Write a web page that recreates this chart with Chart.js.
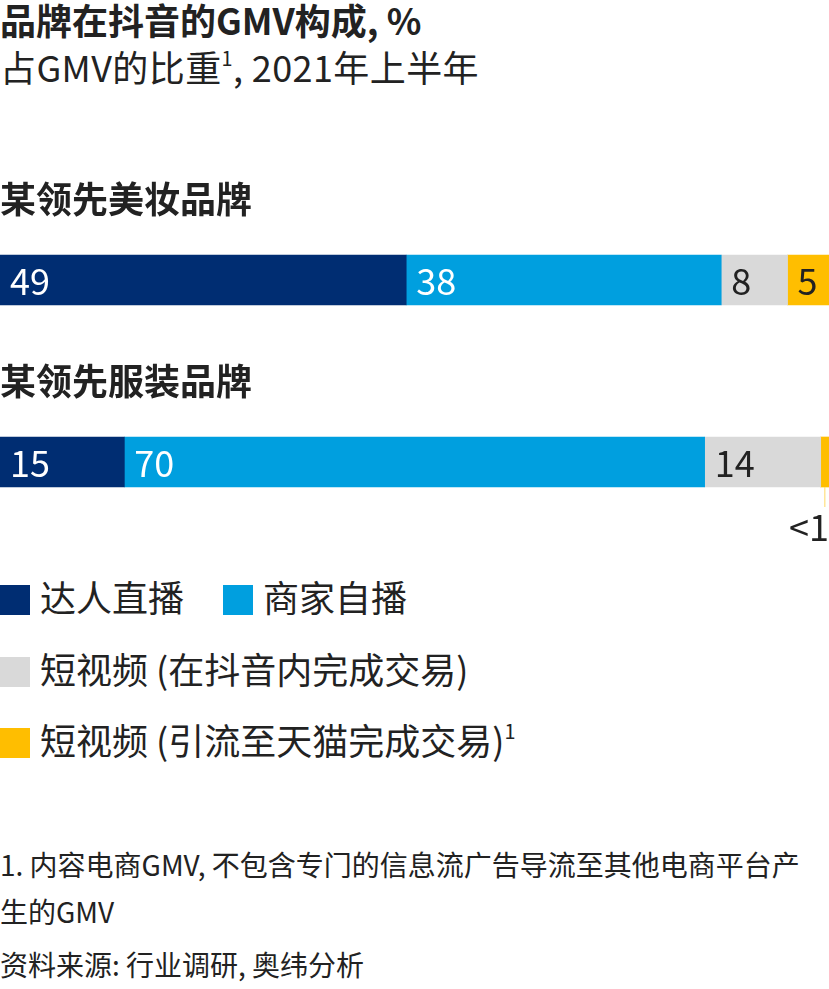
<!DOCTYPE html>
<html>
<head>
<meta charset="utf-8">
<script src="https://cdn.jsdelivr.net/npm/chart.js@4.4.1/dist/chart.umd.min.js"></script>
<style>
  body{ margin:0; width:829px; height:989px; position:relative; overflow:hidden;
        background:#fff; color:#222; font-family:"Noto Sans CJK SC", "Noto Sans", sans-serif; }
  .abs{ position:absolute; left:0; white-space:nowrap; line-height:1; }
  #title{ top:1px; font-size:36px; font-weight:700; }
  #subtitle{ top:48px; font-size:36px; letter-spacing:0.4px; }
  sup{ font-size:0.55em; vertical-align:0.8em; line-height:0; }
  #wrap{ position:absolute; left:0; top:160px; width:829px; height:400px; }
  .lg{ position:absolute; left:0; font-size:36px; line-height:1; white-space:nowrap; }
  .lg i{ display:inline-block; width:30px; height:30px; vertical-align:-3px; margin-right:10px; }
  .foot{ position:absolute; left:0; font-size:28px; line-height:1; white-space:nowrap; }
</style>
</head>
<body>
<div id="title" class="abs">品牌在抖音的GMV构成, %</div>
<div id="subtitle" class="abs">占GMV的比重<sup>1</sup>, 2021年上半年</div>
<div id="wrap"><canvas id="myChart" width="829" height="400"></canvas></div>
<div id="legend"></div>
<div class="foot" style="top:850px">1. 内容电商GMV, 不包含专门的信息流广告导流至其他电商平台产</div>
<div class="foot" style="top:897px">生的GMV</div>
<div class="foot" style="top:950px">资料来源: 行业调研, 奥纬分析</div>

<script>
// brands (one bar each)
const brands = [ '某领先美妆品牌', '某领先服装品牌' ];

// series, % of GMV
const seriesNames = [ '达人直播', '商家自播', '短视频 (在抖音内完成交易)', '短视频 (引流至天猫完成交易)' ];
const seriesNotes = [ '', '', '', '1' ];
const seriesColors = [ '#002d72', '#009fdf', '#d9d9d9', '#ffbe00' ];
const labelColors  = [ '#ffffff', '#ffffff', '#222222', '#222222' ];

const talentLive  = [ 49, 15 ];
const selfLive    = [ 38, 70 ];
const videoInApp  = [  8, 14 ];
const videoTmall  = [  5,  1 ];
const tickLabels  = [ [ '49', '38', '8', '5' ], [ '15', '70', '14', '<1' ] ];

const seriesData = [ talentLive, selfLive, videoInApp, videoTmall ];

function makeData(){
  let datasets = [];
  for( let i = 0 ; i < seriesNames.length ; i++ ){
    datasets.push({
      label: seriesNames[i],
      data: seriesData[i],
      backgroundColor: seriesColors[i],
      borderWidth: 0,
      barThickness: 50
    });
  }
  return { labels: brands, datasets };
}

// brand names above bars, values inside bars
const barText = {
  id: 'barText',
  afterDatasetsDraw( chart ){
    let ctx = chart.ctx;
    let area = chart.chartArea;
    ctx.save();
    // brand titles
    let first = chart.getDatasetMeta(0).data;
    ctx.font = 'bold 36px "Noto Sans CJK SC"';
    ctx.fillStyle = '#222';
    ctx.textAlign = 'left';
    ctx.textBaseline = 'middle';
    first.forEach( (bar, j) => {
      let top = bar.y - bar.height / 2;
      ctx.fillText( brands[j], 0, top - 56 );
    });
    // values
    ctx.font = '36px "Noto Sans CJK SC"';
    chart.data.datasets.forEach( (ds, i) => {
      chart.getDatasetMeta(i).data.forEach( (bar, j) => {
        let txt = tickLabels[j][i];
        let w = bar.x - bar.base;
        if( w > 30 ){
          ctx.fillStyle = labelColors[i];
          ctx.textAlign = 'left';
          ctx.fillText( txt, bar.base + 10, bar.y + 1 );
        }else{
          // too small: leader line and label below
          let cx = (bar.x + bar.base) / 2;
          let bottom = bar.y + bar.height / 2;
          ctx.strokeStyle = '#ffd966';
          ctx.lineWidth = 1;
          ctx.beginPath();
          ctx.moveTo( cx, bottom );
          ctx.lineTo( cx, bottom + 20 );
          ctx.stroke();
          ctx.fillStyle = '#222';
          ctx.textAlign = 'right';
          ctx.fillText( txt, area.right, bottom + 40 );
        }
      });
    });
    ctx.restore();
  }
};

function buildLegend(){
  let box = document.getElementById('legend');
  let rows = [ [0, 1], [2], [3] ];
  let tops = [ 578, 650, 721 ];
  let lefts = [ [0, 223], [0], [0] ];
  rows.forEach( (row, r) => {
    row.forEach( (k, n) => {
      let d = document.createElement('div');
      d.className = 'lg';
      d.style.top = tops[r] + 'px';
      d.style.left = lefts[r][n] + 'px';
      d.innerHTML = '<i style="background:' + seriesColors[k] + '"></i>' + seriesNames[k] +
        ( seriesNotes[k] ? '<sup>' + seriesNotes[k] + '</sup>' : '' );
      box.appendChild(d);
    });
  });
}

window.addEventListener('load', () => {
  let ctx = document.getElementById('myChart').getContext('2d');
  new Chart( ctx, {
    type: 'bar',
    data: makeData(),
    options: {
      indexAxis: 'y',
      responsive: false,
      animation: false,
      layout: { padding: { top: 29, bottom: 7, left: 0, right: 0 } },
      scales: {
        x: { stacked: true, min: 0, max: 100, display: false },
        y: { stacked: true, display: false }
      },
      plugins: { legend: { display: false }, tooltip: { enabled: false } }
    },
    plugins: [ barText ]
  });
  buildLegend();
});
</script>
</body>
</html>
